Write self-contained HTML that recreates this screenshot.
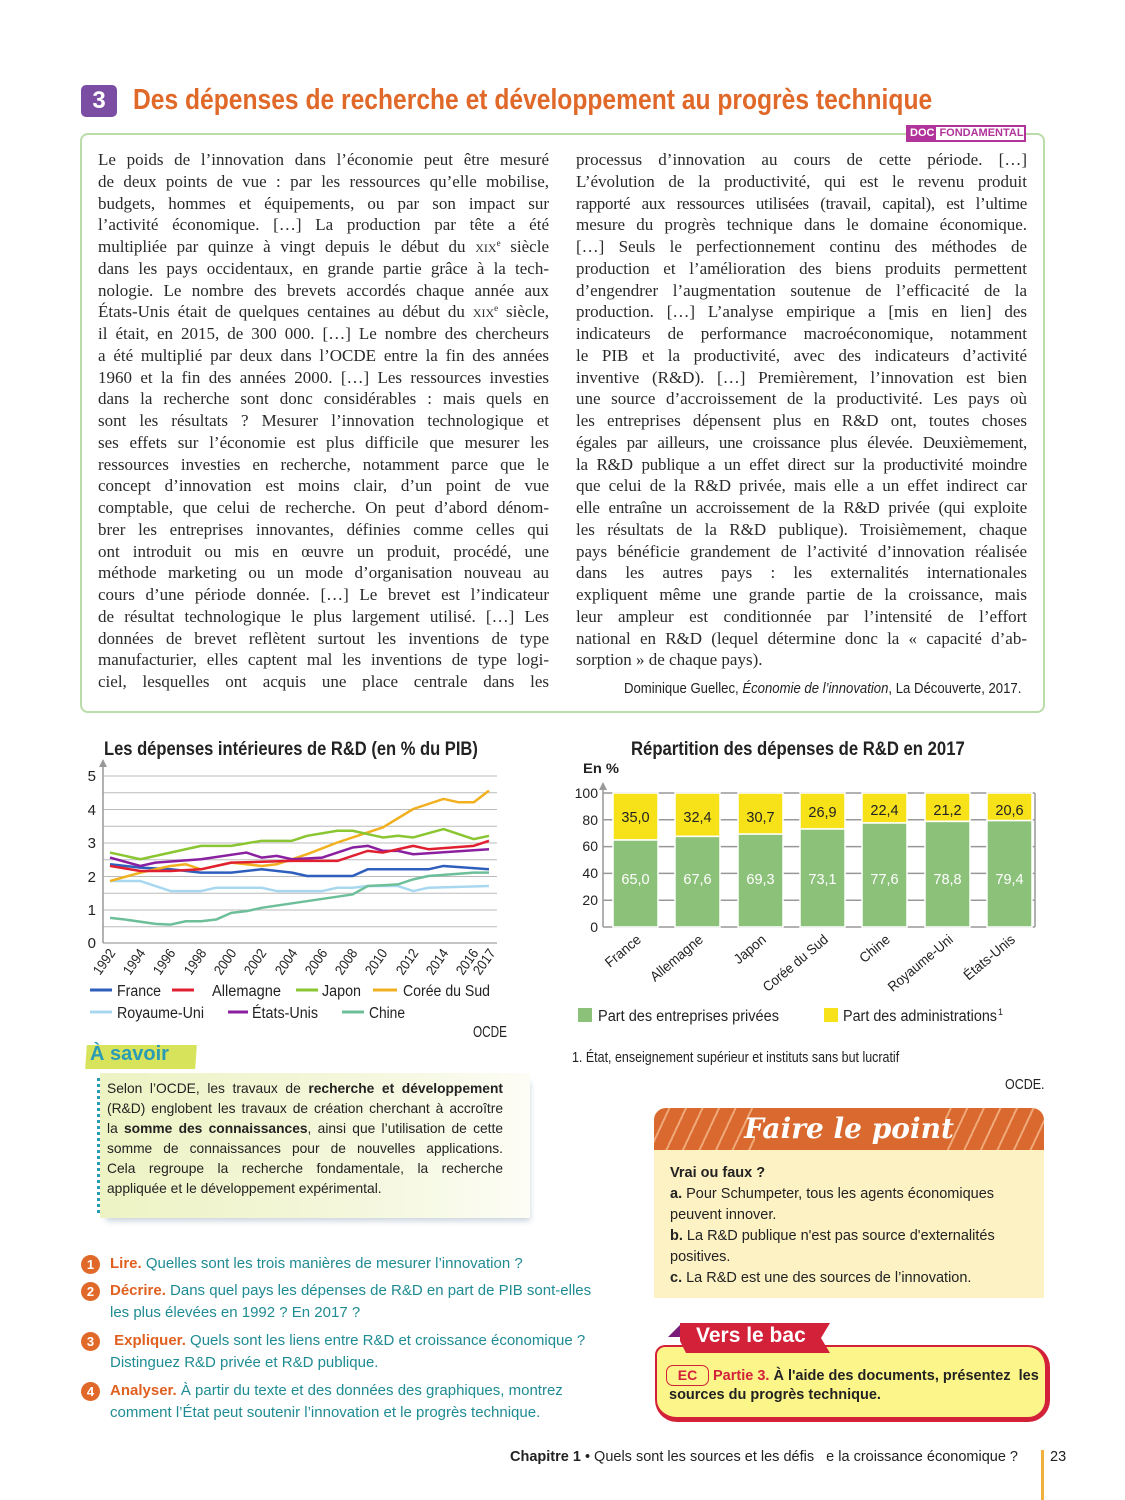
<!DOCTYPE html>
<html><head><meta charset="utf-8">
<style>
*{margin:0;padding:0;box-sizing:border-box}
body{width:1125px;height:1500px;background:#fff;position:relative;overflow:hidden;font-family:"Liberation Sans",sans-serif;color:#222}
.a{position:absolute;white-space:nowrap}
.col{position:absolute;font-family:"Liberation Serif",serif;font-size:17px;line-height:21.75px;color:#2a2a2a}
.col div{text-align:justify;text-align-last:justify;white-space:nowrap;overflow:visible;height:21.75px}
.col div.l{text-align-last:left}
.col sup{font-size:9px;line-height:0;vertical-align:6px}
.sc{font-variant:small-caps}
.q{position:absolute;font-size:15px;color:#1f8b93;line-height:22px}
.q b{color:#e06020}
.num{position:absolute;width:19px;height:19px;border-radius:50%;background:#e0692a;color:#fff;font-weight:bold;font-size:13px;text-align:center;line-height:19px}
.sav div{text-align:justify;text-align-last:justify;height:20px}
.sav div.l{text-align-last:left}
</style></head><body>

<!-- Title -->
<div class="a" style="left:81px;top:85px;width:36px;height:32px;background:#7b4ea3;border-radius:5px;color:#fff;font-weight:bold;font-size:24px;text-align:center;line-height:32px">3</div>
<div class="a" style="left:133px;top:84px;font-size:28.5px;font-weight:bold;color:#e0692a;transform:scaleX(0.864);transform-origin:0 0">Des dépenses de recherche et développement au progrès technique</div>

<!-- Text box -->
<div class="a" style="left:80px;top:133px;width:965px;height:580px;border:2px solid #b9dca8;border-radius:8px"></div>
<div class="a" style="left:906px;top:125px;width:120px;height:17px;border:2px solid #b0349a;background:#fff;font-size:11px;font-weight:bold;line-height:13px;display:flex;overflow:hidden">
<span style="background:#b0349a;color:#fff;padding:0 2px">DOC</span><span style="color:#b0349a;padding:0 3px">FONDAMENTAL</span></div>

<div class="col" style="left:98px;top:149px;width:451px">
<div>Le poids de l’innovation dans l’économie peut être mesuré</div>
<div>de deux points de vue : par les ressources qu’elle mobilise,</div>
<div>budgets, hommes et équipements, ou par son impact sur</div>
<div>l’activité économique. […] La production par tête a été</div>
<div>multipliée par quinze à vingt depuis le début du <span class="sc">xix</span><sup>e</sup> siècle</div>
<div>dans les pays occidentaux, en grande partie grâce à la tech-</div>
<div>nologie. Le nombre des brevets accordés chaque année aux</div>
<div>États-Unis était de quelques centaines au début du <span class="sc">xix</span><sup>e</sup> siècle,</div>
<div>il était, en 2015, de 300 000. […] Le nombre des chercheurs</div>
<div>a été multiplié par deux dans l’OCDE entre la fin des années</div>
<div>1960 et la fin des années 2000. […] Les ressources investies</div>
<div>dans la recherche sont donc considérables : mais quels en</div>
<div>sont les résultats ? Mesurer l’innovation technologique et</div>
<div>ses effets sur l’économie est plus difficile que mesurer les</div>
<div>ressources investies en recherche, notamment parce que le</div>
<div>concept d’innovation est moins clair, d’un point de vue</div>
<div>comptable, que celui de recherche. On peut d’abord dénom-</div>
<div>brer les entreprises innovantes, définies comme celles qui</div>
<div>ont introduit ou mis en œuvre un produit, procédé, une</div>
<div>méthode marketing ou un mode d’organisation nouveau au</div>
<div>cours d’une période donnée. […] Le brevet est l’indicateur</div>
<div>de résultat technologique le plus largement utilisé. […] Les</div>
<div>données de brevet reflètent surtout les inventions de type</div>
<div>manufacturier, elles captent mal les inventions de type logi-</div>
<div>ciel, lesquelles ont acquis une place centrale dans les</div>
</div>

<div class="col" style="left:576px;top:149px;width:451px">
<div>processus d’innovation au cours de cette période. […]</div>
<div>L’évolution de la productivité, qui est le revenu produit</div>
<div style="letter-spacing:-0.3px">rapporté aux ressources utilisées (travail, capital), est l’ultime</div>
<div>mesure du progrès technique dans le domaine économique.</div>
<div>[…] Seuls le perfectionnement continu des méthodes de</div>
<div>production et l’amélioration des biens produits permettent</div>
<div>d’engendrer l’augmentation soutenue de l’efficacité de la</div>
<div>production. […] L’analyse empirique a [mis en lien] des</div>
<div>indicateurs de performance macroéconomique, notamment</div>
<div>le PIB et la productivité, avec des indicateurs d’activité</div>
<div>inventive (R&amp;D). […] Premièrement, l’innovation est bien</div>
<div>une source d’accroissement de la productivité. Les pays où</div>
<div>les entreprises dépensent plus en R&amp;D ont, toutes choses</div>
<div style="letter-spacing:-0.3px">égales par ailleurs, une croissance plus élevée. Deuxièmement,</div>
<div style="letter-spacing:-0.2px">la R&amp;D publique a un effet direct sur la productivité moindre</div>
<div>que celui de la R&amp;D privée, mais elle a un effet indirect car</div>
<div style="letter-spacing:-0.2px">elle entraîne un accroissement de la R&amp;D privée (qui exploite</div>
<div>les résultats de la R&amp;D publique). Troisièmement, chaque</div>
<div>pays bénéficie grandement de l’activité d’innovation réalisée</div>
<div>dans les autres pays : les externalités internationales</div>
<div>expliquent même une grande partie de la croissance, mais</div>
<div>leur ampleur est conditionnée par l’intensité de l’effort</div>
<div>national en R&amp;D (lequel détermine donc la « capacité d’ab-</div>
<div class="l">sorption » de chaque pays).</div>
</div>
<div class="a" style="left:624px;top:680px;font-size:15px;color:#222;transform:scaleX(0.876);transform-origin:0 0">Dominique Guellec, <i>Économie de l’innovation</i>, La Découverte, 2017.</div>

<!-- Line chart -->
<div class="a" style="left:104px;top:739px;font-size:19px;font-weight:bold;transform:scaleX(0.87);transform-origin:0 0">Les dépenses intérieures de R&amp;D (en % du PIB)</div>
<svg class="a" style="left:0;top:0" width="560" height="1050" viewBox="0 0 560 1050">
<g stroke="#bbb" stroke-width="1">
<line x1="103" x2="497" y1="776" y2="776"/><line x1="103" x2="497" y1="792.8" y2="792.8"/><line x1="103" x2="497" y1="809.5" y2="809.5"/><line x1="103" x2="497" y1="826.3" y2="826.3"/><line x1="103" x2="497" y1="843" y2="843"/><line x1="103" x2="497" y1="859.8" y2="859.8"/><line x1="103" x2="497" y1="876.5" y2="876.5"/><line x1="103" x2="497" y1="893.3" y2="893.3"/><line x1="103" x2="497" y1="910" y2="910"/><line x1="103" x2="497" y1="926.8" y2="926.8"/>
</g>
<line x1="103" x2="497" y1="943" y2="943" stroke="#888"/>
<line x1="103" x2="103" y1="765" y2="943" stroke="#999" stroke-width="1.5"/>
<polygon points="99,767 107,767 103,759" fill="#999"/>
<g font-family="Liberation Sans, sans-serif" font-size="15" fill="#222">
<text x="96" y="781" text-anchor="end">5</text><text x="96" y="815" text-anchor="end">4</text><text x="96" y="848" text-anchor="end">3</text><text x="96" y="882" text-anchor="end">2</text><text x="96" y="915" text-anchor="end">1</text><text x="96" y="948" text-anchor="end">0</text>
</g>
<g font-family="Liberation Sans, sans-serif" font-size="14" fill="#222" text-anchor="end">
<text transform="translate(116,953) rotate(-55)" textLength="28" lengthAdjust="spacingAndGlyphs">1992</text><text transform="translate(146,953) rotate(-55)" textLength="28" lengthAdjust="spacingAndGlyphs">1994</text><text transform="translate(176,953) rotate(-55)" textLength="28" lengthAdjust="spacingAndGlyphs">1996</text><text transform="translate(207,953) rotate(-55)" textLength="28" lengthAdjust="spacingAndGlyphs">1998</text><text transform="translate(237,953) rotate(-55)" textLength="28" lengthAdjust="spacingAndGlyphs">2000</text><text transform="translate(267,953) rotate(-55)" textLength="28" lengthAdjust="spacingAndGlyphs">2002</text><text transform="translate(298,953) rotate(-55)" textLength="28" lengthAdjust="spacingAndGlyphs">2004</text><text transform="translate(328,953) rotate(-55)" textLength="28" lengthAdjust="spacingAndGlyphs">2006</text><text transform="translate(358,953) rotate(-55)" textLength="28" lengthAdjust="spacingAndGlyphs">2008</text><text transform="translate(388,953) rotate(-55)" textLength="28" lengthAdjust="spacingAndGlyphs">2010</text><text transform="translate(419,953) rotate(-55)" textLength="28" lengthAdjust="spacingAndGlyphs">2012</text><text transform="translate(449,953) rotate(-55)" textLength="28" lengthAdjust="spacingAndGlyphs">2014</text><text transform="translate(479,953) rotate(-55)" textLength="28" lengthAdjust="spacingAndGlyphs">2016</text><text transform="translate(496,953) rotate(-55)" textLength="28" lengthAdjust="spacingAndGlyphs">2017</text>
</g>
<g transform="translate(110,943) scale(15.16,-33.5)" fill="none" stroke-width="2.5" stroke-linejoin="round">
<polyline vector-effect="non-scaling-stroke" stroke="#a8d8f0" points="0,1.85 2,1.85 4,1.55 6,1.55 7,1.65 10,1.65 11,1.55 14,1.55 15,1.65 16,1.65 17,1.7 19,1.7 20,1.55 21,1.65 25,1.7"/>
<polyline vector-effect="non-scaling-stroke" stroke="#6dbf9a" points="0,0.75 1,0.7 3,0.57 4,0.55 5,0.65 6,0.65 7,0.7 8,0.9 9,0.95 10,1.05 16,1.45 17,1.7 19,1.75 20,1.9 21,2.0 24,2.1 25,2.1"/>
<polyline vector-effect="non-scaling-stroke" stroke="#2f5fbd" points="0,2.35 2,2.25 4,2.2 6,2.1 8,2.1 10,2.2 12,2.1 13,2.0 16,2.0 17,2.2 21,2.2 22,2.3 25,2.2"/>
<polyline vector-effect="non-scaling-stroke" stroke="#f0b020" points="0,1.85 2,2.1 4,2.3 5,2.35 6,2.2 8,2.4 10,2.3 11,2.35 12,2.5 13,2.65 15,3.0 17,3.3 18,3.45 20,4.0 22,4.3 23,4.2 24,4.2 25,4.55"/>
<polyline vector-effect="non-scaling-stroke" stroke="#8ac532" points="0,2.7 2,2.5 6,2.9 8,2.9 10,3.05 12,3.05 13,3.2 15,3.35 16,3.35 18,3.15 19,3.2 20,3.15 22,3.4 24,3.1 25,3.2"/>
<polyline vector-effect="non-scaling-stroke" stroke="#8a1fa0" points="0,2.55 2,2.3 3,2.4 6,2.5 9,2.7 10,2.55 11,2.6 12,2.5 14,2.55 15,2.7 16,2.85 17,2.9 18,2.75 19,2.75 20,2.65 25,2.8"/>
<polyline vector-effect="non-scaling-stroke" stroke="#e02030" points="0,2.3 2,2.15 4,2.15 6,2.2 8,2.4 12,2.45 15,2.45 17,2.75 18,2.7 20,2.9 21,2.8 24,2.9 25,3.05"/>
</g>
<g stroke-width="3">
<line x1="90" x2="112" y1="990" y2="990" stroke="#2f5fbd"/><line x1="172" x2="194" y1="990" y2="990" stroke="#e02030"/><line x1="296" x2="318" y1="990" y2="990" stroke="#8ac532"/><line x1="373" x2="397" y1="990" y2="990" stroke="#f0b020"/>
<line x1="90" x2="112" y1="1012" y2="1012" stroke="#a8d8f0"/><line x1="228" x2="248" y1="1012" y2="1012" stroke="#8a1fa0"/><line x1="342" x2="364" y1="1012" y2="1012" stroke="#6dbf9a"/>
</g>
<g font-family="Liberation Sans, sans-serif" font-size="15.5" fill="#222" lengthAdjust="spacingAndGlyphs">
<text x="117" y="996" textLength="44" lengthAdjust="spacingAndGlyphs">France</text><text x="212" y="996" textLength="69" lengthAdjust="spacingAndGlyphs">Allemagne</text><text x="322" y="996" textLength="39" lengthAdjust="spacingAndGlyphs">Japon</text><text x="403" y="996" textLength="87" lengthAdjust="spacingAndGlyphs">Corée du Sud</text>
<text x="117" y="1018" textLength="87" lengthAdjust="spacingAndGlyphs">Royaume-Uni</text><text x="252" y="1018" textLength="66" lengthAdjust="spacingAndGlyphs">États-Unis</text><text x="369" y="1018" textLength="36" lengthAdjust="spacingAndGlyphs">Chine</text>
<text x="473" y="1037" textLength="34" lengthAdjust="spacingAndGlyphs">OCDE</text>
</g>
</svg>

<!-- Bar chart -->
<div class="a" style="left:631px;top:739px;font-size:19px;font-weight:bold;transform:scaleX(0.878);transform-origin:0 0">Répartition des dépenses de R&amp;D en 2017</div>
<svg class="a" style="left:560px;top:750px" width="500" height="290" viewBox="560 750 500 290">
<g font-family="Liberation Sans, sans-serif" font-size="14" fill="#222">
<text x="583" y="773" font-weight="bold" textLength="36" lengthAdjust="spacingAndGlyphs">En %</text>
<text x="598" y="798" text-anchor="end">100</text><text x="598" y="825" text-anchor="end">80</text><text x="598" y="851" text-anchor="end">60</text><text x="598" y="878" text-anchor="end">40</text><text x="598" y="905" text-anchor="end">20</text><text x="598" y="932" text-anchor="end">0</text>
</g>
<g stroke="#999" stroke-width="1.5">
<line x1="603" x2="1035" y1="793" y2="793"/><line x1="603" x2="1035" y1="819.8" y2="819.8"/><line x1="603" x2="1035" y1="846.6" y2="846.6"/><line x1="603" x2="1035" y1="873.4" y2="873.4"/><line x1="603" x2="1035" y1="900.2" y2="900.2"/>
<line x1="603" x2="1035" y1="927" y2="927"/><line x1="1035" x2="1035" y1="793" y2="927"/>
</g>
<line x1="603" x2="603" y1="788" y2="927" stroke="#999" stroke-width="1.5"/>
<polygon points="599,790 607,790 603,782" fill="#999"/>
<g stroke="#fff" stroke-width="1.5">
<rect x="613" y="793" width="45" height="47" fill="#f7e21a"/><rect x="613" y="840" width="45" height="87" fill="#8cc17a"/>
<rect x="675" y="793" width="45" height="43.4" fill="#f7e21a"/><rect x="675" y="836.4" width="45" height="90.6" fill="#8cc17a"/>
<rect x="738" y="793" width="45" height="41.1" fill="#f7e21a"/><rect x="738" y="834.1" width="45" height="92.9" fill="#8cc17a"/>
<rect x="800" y="793" width="45" height="36" fill="#f7e21a"/><rect x="800" y="829" width="45" height="98" fill="#8cc17a"/>
<rect x="862" y="793" width="45" height="30" fill="#f7e21a"/><rect x="862" y="823" width="45" height="104" fill="#8cc17a"/>
<rect x="925" y="793" width="45" height="28.4" fill="#f7e21a"/><rect x="925" y="821.4" width="45" height="105.6" fill="#8cc17a"/>
<rect x="987" y="793" width="45" height="27.6" fill="#f7e21a"/><rect x="987" y="820.6" width="45" height="106.4" fill="#8cc17a"/>
</g>
<g font-family="Liberation Sans, sans-serif" font-size="14.5" text-anchor="middle">
<g fill="#222"><text x="635.5" y="822">35,0</text><text x="697.5" y="822">32,4</text><text x="760.5" y="822">30,7</text><text x="822.5" y="817">26,9</text><text x="884.5" y="815">22,4</text><text x="947.5" y="815">21,2</text><text x="1009.5" y="815">20,6</text></g>
<g fill="#fff"><text x="635.5" y="884">65,0</text><text x="697.5" y="884">67,6</text><text x="760.5" y="884">69,3</text><text x="822.5" y="884">73,1</text><text x="884.5" y="884">77,6</text><text x="947.5" y="884">78,8</text><text x="1009.5" y="884">79,4</text></g>
</g>
<g font-family="Liberation Sans, sans-serif" font-size="14" fill="#222" text-anchor="end">
<text transform="translate(642,941) rotate(-40)" textLength="42" lengthAdjust="spacingAndGlyphs">France</text><text transform="translate(704,941) rotate(-40)" textLength="64" lengthAdjust="spacingAndGlyphs">Allemagne</text><text transform="translate(767,941) rotate(-40)" textLength="37" lengthAdjust="spacingAndGlyphs">Japon</text><text transform="translate(829,941) rotate(-40)" textLength="80" lengthAdjust="spacingAndGlyphs">Corée du Sud</text><text transform="translate(891,941) rotate(-40)" textLength="35" lengthAdjust="spacingAndGlyphs">Chine</text><text transform="translate(954,941) rotate(-40)" textLength="80" lengthAdjust="spacingAndGlyphs">Royaume-Uni</text><text transform="translate(1016,941) rotate(-40)" textLength="62" lengthAdjust="spacingAndGlyphs">États-Unis</text>
</g>
<rect x="578" y="1008" width="14" height="14" fill="#8cc17a"/><rect x="824" y="1008" width="14" height="14" fill="#f7e21a"/>
<g font-family="Liberation Sans, sans-serif" font-size="15.5" fill="#222">
<text x="598" y="1021" textLength="181" lengthAdjust="spacingAndGlyphs">Part des entreprises privées</text><text x="843" y="1021" textLength="154" lengthAdjust="spacingAndGlyphs">Part des administrations</text><text x="998" y="1015" font-size="9">1</text>
</g>
</svg>
<div class="a" style="left:572px;top:1050px;font-size:14.5px;transform:scaleX(0.86);transform-origin:0 0">1. État, enseignement supérieur et instituts sans but lucratif</div>
<div class="a" style="left:1005px;top:1077px;font-size:14.5px;transform:scaleX(0.86);transform-origin:0 0">OCDE.</div>

<!-- A savoir -->
<div class="a" style="left:100px;top:1073px;width:430px;height:145px;background:linear-gradient(90deg,#eef3c4 0%,#f4f7dc 60%,#fdfdf6 100%);box-shadow:3px 6px 6px -3px #c8d4dc"></div>
<div class="a" style="left:86px;top:1045px;width:110px;height:24px;background:#d7e35a;transform:skewX(-4deg)"></div>
<div class="a" style="left:90px;top:1043px;font-size:20px;font-weight:bold;color:#2a9bb5">À savoir</div>
<div class="a" style="left:97px;top:1078px;height:135px;border-left:3px dotted #2a9bb5"></div>
<div class="a sav" style="left:107px;top:1079px;width:396px;font-size:13.8px;line-height:20px;color:#222">
<div>Selon l’OCDE, les travaux de <b>recherche et développement</b></div>
<div>(R&amp;D) englobent les travaux de création cherchant à accroître</div>
<div>la <b>somme des connaissances</b>, ainsi que l’utilisation de cette</div>
<div>somme de connaissances pour de nouvelles applications.</div>
<div>Cela regroupe la recherche fondamentale, la recherche</div>
<div class="l">appliquée et le développement expérimental.</div>
</div>

<!-- Questions -->
<div class="num" style="left:81px;top:1255px">1</div>
<div class="num" style="left:81px;top:1282px">2</div>
<div class="num" style="left:81px;top:1332px">3</div>
<div class="num" style="left:81px;top:1382px">4</div>
<div class="q" style="left:110px;top:1253px"><b>Lire.</b> Quelles sont les trois manières de mesurer l’innovation ?</div>
<div class="q" style="left:110px;top:1280px"><b>Décrire.</b> Dans quel pays les dépenses de R&amp;D en part de PIB sont-elles<br>les plus élevées en 1992 ? En 2017 ?</div>
<div class="q" style="left:110px;top:1330px"><b>&nbsp;Expliquer.</b> Quels sont les liens entre R&amp;D et croissance économique ?<br>Distinguez R&amp;D privée et R&amp;D publique.</div>
<div class="q" style="left:110px;top:1380px"><b>Analyser.</b> À partir du texte et des données des graphiques, montrez<br>comment l’État peut soutenir l’innovation et le progrès technique.</div>

<!-- Faire le point -->
<div class="a" style="left:654px;top:1108px;width:390px;height:190px;background:#fdf2c4;border-radius:12px 12px 0 0;overflow:hidden">
<div style="height:42px;background:repeating-linear-gradient(115deg,#d9692e 0 13px,#f0a878 13px 15px);"></div>
</div>
<div class="a" style="left:755px;top:1108px;width:190px;height:42px;background:#d9692e"></div>
<div class="a" style="left:654px;top:1108px;width:390px;text-align:center;font-family:'DejaVu Serif',serif;font-style:italic;font-weight:bold;font-size:28px;color:#fff;line-height:42px">Faire le point</div>
<div class="a" style="left:670px;top:1163px;font-size:14.5px;line-height:21px;color:#222"><b>Vrai ou faux ?</b><br><b>a.</b> Pour Schumpeter, tous les agents économiques<br>peuvent innover.<br><b>b.</b> La R&amp;D publique n'est pas source d'externalités<br>positives.<br><b>c.</b> La R&amp;D est une des sources de l’innovation.</div>

<!-- Vers le bac -->
<div class="a" style="left:655px;top:1345px;width:395px;height:77px;background:#fbf58a;border:3px solid #d4213a;border-width:2px 5px 5px 2px;border-radius:10px 22px 22px 22px"></div>
<div class="a" style="left:668px;top:1323px;width:0;height:0;border-left:14px solid transparent;border-bottom:14px solid #7a1d7a"></div>
<div class="a" style="left:680px;top:1323px;width:150px;height:30px;background:#d4213a;clip-path:polygon(0 0,100% 0,94% 50%,100% 100%,4% 100%,0 60%)"></div>
<div class="a" style="left:696px;top:1324px;font-size:21px;font-weight:bold;color:#fff">Vers le bac</div>
<div class="a" style="left:666px;top:1365px;width:43px;height:21px;border:1.5px solid #d4213a;border-radius:7px;color:#d4213a;font-weight:bold;font-size:14px;text-align:center;line-height:18px">EC</div>
<div class="a" style="left:713px;top:1366px;font-size:14.5px;line-height:21px;color:#222"><b style="color:#d4213a">Partie 3.</b> <b>À l'aide des documents, présentez&nbsp; les</b></div>
<div class="a" style="left:669px;top:1387px;font-size:14.5px;font-weight:bold;color:#222">sources du progrès technique.</div>

<!-- Footer -->
<div class="a" style="right:107px;top:1449px;font-size:14.5px;color:#222"><b>Chapitre 1</b> • Quels sont les sources et les défis &nbsp;&nbsp;e la croissance économique ?</div>
<div class="a" style="left:1041px;top:1450px;width:3px;height:50px;background:#f0b040"></div>
<div class="a" style="left:1050px;top:1449px;font-size:14.5px">23</div>
</body></html>
